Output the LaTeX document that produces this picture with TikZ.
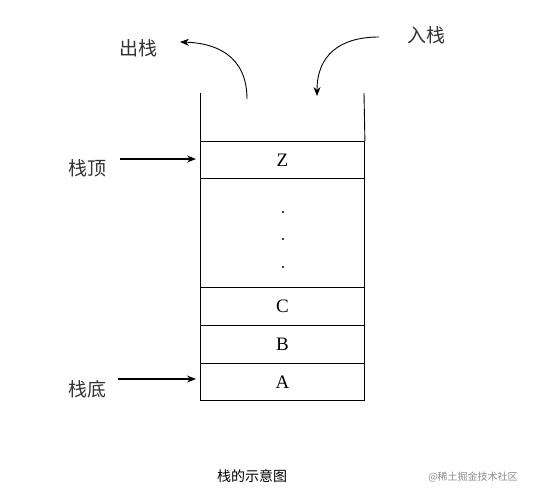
\documentclass[tikz,border=0pt]{standalone}
\usepackage{fontspec}
\setmainfont{Liberation Serif}
\newfontfamily\cjk{Noto Sans CJK SC}
\usetikzlibrary{arrows.meta}
\begin{document}
\begin{tikzpicture}[x=1pt,y=-1pt,
  cell/.style={draw,line width=0.9pt,inner sep=0pt,minimum width=164pt,anchor=north west,font=\fontsize{19}{19}\selectfont},
  lbl/.style={font=\cjk\fontsize{19}{19}\selectfont,text=black!80},
  harrow/.style={line width=1.4pt,-{Stealth[length=9pt,width=7pt]}},
  carrow/.style={line width=0.9pt,-{Stealth[length=9pt,width=7pt]}}]
\fill[white] (0,0) rectangle (533,488);
\useasboundingbox (0,0) rectangle (533,488);
% stack cells
\node[cell,minimum height=37pt] (zc) at (200,141) {Z};
\node[cell,minimum height=109pt] (dc) at (200,178) {};
\node[cell,minimum height=38pt] (cc) at (200,287) {C};
\node[cell,minimum height=38pt] (bc) at (200,325) {B};
\node[cell,minimum height=37pt] (ac) at (200,363) {A};
% dots
\fill (283,212) circle (1.2pt);
\fill (283,239) circle (1.2pt);
\fill (283,267) circle (1.2pt);
% walls
\coordinate (wl) at (200,93);
\coordinate (wr) at (364,93);
\draw[line width=0.9pt] (wl) -- (zc.north west);
\draw[line width=0.9pt] (wr) -- (zc.north east);
% labels
\node[lbl] (top) at (87,168) {栈顶};
\node[lbl] (bot) at (87,389) {栈底};
\node[lbl] (out) at (138,48) {出栈};
\node[lbl] (in) at (426,35) {入栈};
% horizontal arrows
\coordinate (ta) at (120,159);
\coordinate (ba) at (118,379);
\draw[harrow] (ta) -- ([xshift=-4pt]ta -| zc.west);
\draw[harrow] (ba) -- ([xshift=-4pt]ba -| ac.west);
% curved arrows
\coordinate (os) at (247,99);
\coordinate (oe) at (180,42);
\draw[carrow] (os) .. controls (247,55) and (215,43) .. (oe);
\coordinate (is) at (379,37);
\coordinate (ie) at (317,96);
\draw[carrow] (is) .. controls (340,37) and (317,55) .. (ie);
% caption
\node[font=\cjk\fontsize{14}{14}\selectfont] (cap) at (252,476) {栈的示意图};
\node[font=\cjk\fontsize{10}{10}\selectfont,text=black!45] (wm) at (473,477) {@稀土掘金技术社区};
\end{tikzpicture}
\end{document}
